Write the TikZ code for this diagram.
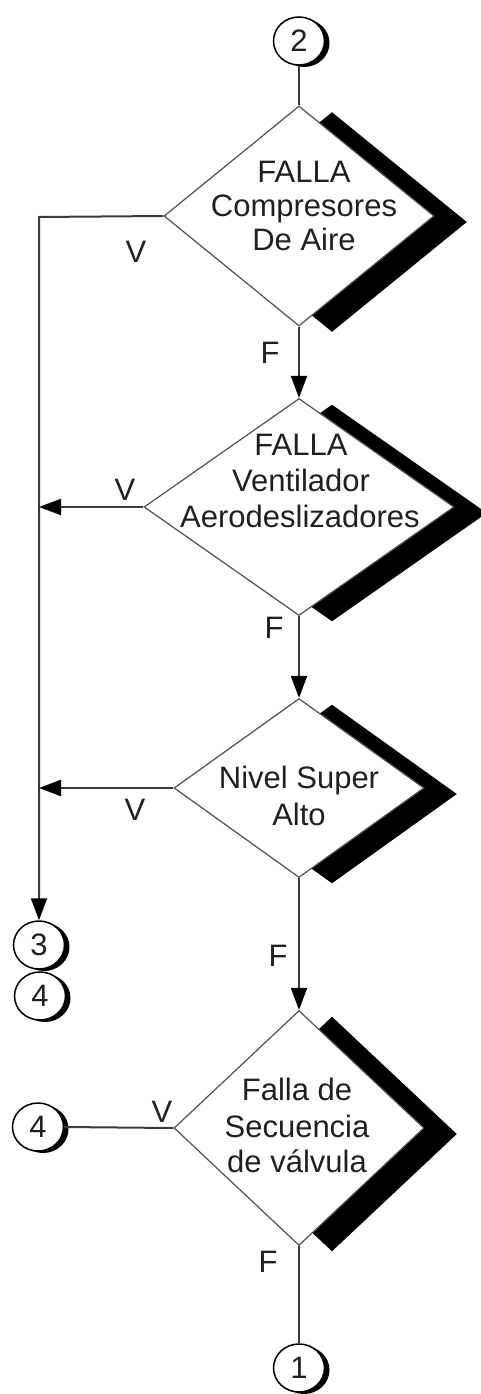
\documentclass[tikz,border=0pt]{standalone}
\usepackage{fontspec}
\setmainfont{Liberation Sans}
\usetikzlibrary{shapes.geometric,arrows.meta,shadows}
\definecolor{linegray}{HTML}{505050}
\definecolor{conngray}{HTML}{3A3A3A}
\definecolor{textgray}{HTML}{202020}
\newcommand{\bigf}{\fontsize{31}{36}\selectfont}
\tikzset{
  dia/.style={shape=diamond, draw=linegray, line width=1.2pt, fill=white, inner sep=0pt,
    drop shadow={shadow xshift=33pt, shadow yshift=-6pt, fill=black, opacity=1}},
  conn/.style={draw=conngray, line width=2pt},
  arr/.style={conn, -{Triangle[length=22pt,width=16pt,color=black]}},
  con/.style={shape=ellipse, draw=black, line width=1.5pt, fill=white,
    minimum width=51pt, minimum height=48pt, inner sep=0pt, font=\bigf, text=textgray,
    drop shadow={shadow xshift=5pt, shadow yshift=-2pt, fill=black, opacity=1}},
  txt/.style={anchor=base, inner sep=0pt, font=\bigf, text=textgray}
}
\begin{document}
\begin{tikzpicture}[x=1pt,y=-1pt]
\useasboundingbox (0,0) rectangle (481,1394);
% decision shapes
\node[dia, minimum width=270pt, minimum height=220pt] (d1) at (299,216) {};
\node[dia, minimum width=310pt, minimum height=217pt] (d2) at (299,507) {};
\node[dia, minimum width=250pt, minimum height=179pt] (d3) at (299,788) {};
\node[dia, minimum width=250pt, minimum height=235pt] (d4) at (299,1128) {};
% texts in shapes
\node[txt] (t1a) at (304,182) {FALLA};
\node[txt] (t1b) at (304,216) {Compresores};
\node[txt] (t1c) at (304,250) {De Aire};
\node[txt] (t2a) at (301,455) {FALLA};
\node[txt] (t2b) at (301,491) {Ventilador};
\node[txt] (t2c) at (300,527) {Aerodeslizadores};
\node[txt] (t3a) at (299,788) {Nivel Super};
\node[txt] (t3b) at (299,825) {Alto};
\node[txt] (t4a) at (297,1100) {Falla de};
\node[txt] (t4b) at (297,1137) {Secuencia};
\node[txt] (t4c) at (297,1172) {de válvula};
% connectors (off-page)
\node[con] (c2) at (299,41) {2};
\node[con] (c3) at (39,945) {3};
\node[con] (c4a) at (40,996) {4};
\node[con] (c4b) at (38,1127) {4};
\node[con] (c1) at (299,1368) {1};
% junctions on the left line
\coordinate (j1) at (39,217);
\coordinate (j2) at (39,507);
\coordinate (j3) at (39,788);
% flow lines
\draw[conn] (c2.south) -- (d1.north);
\draw[arr] (d1.south) -- (d2.north);
\draw[arr] (d2.south) -- (d3.north);
\draw[arr] (d3.south) -- (d4.north);
\draw[conn] (d4.south) -- (c1.north);
\draw[arr] (d1.west) -- (j1) -- (c3.north);
\draw[arr] (d2.west) -- (j2);
\draw[arr] (d3.west) -- (j3);
\draw[conn] (c4b.east) -- (d4.west);
% labels
\node[txt] (v1) at (136,262) {V};
\node[txt] (f1) at (270,363) {F};
\node[txt] (v2) at (125,500) {V};
\node[txt] (f2) at (274,638) {F};
\node[txt] (v3) at (135,820) {V};
\node[txt] (f3) at (278,966) {F};
\node[txt] (v4) at (162,1122) {V};
\node[txt] (f4) at (268,1272) {F};
\end{tikzpicture}
\end{document}
